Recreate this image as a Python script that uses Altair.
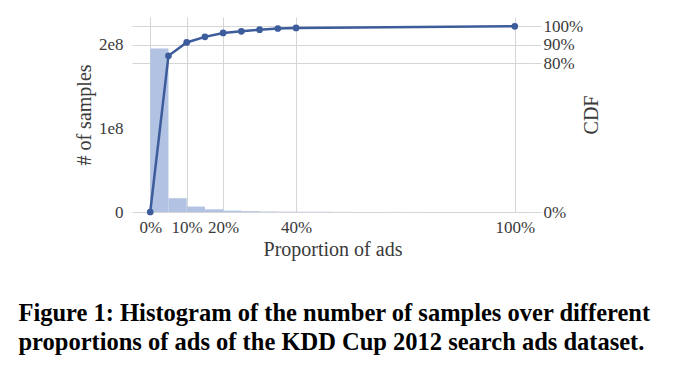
import altair as alt
import pandas as pd

# Histogram bins (proportion of ads, %) and sample counts
bin_start = [0, 5, 10, 15, 20, 25, 30, 35, 40, 45, 50, 55, 60, 65, 70, 75, 80, 85, 90, 95]
bin_end = [5, 10, 15, 20, 25, 30, 35, 40, 45, 50, 55, 60, 65, 70, 75, 80, 85, 90, 95, 100]
counts = [1.955e8, 0.165e8, 0.065e8, 0.032e8, 0.016e8, 0.010e8, 0.006e8, 0.004e8,
          0.003e8, 0.002e8, 0.0015e8, 0.001e8, 0.001e8, 0.0008e8, 0.0006e8, 0.0005e8,
          0.0004e8, 0.0003e8, 0.0002e8, 0.0002e8]

# CDF points
cdf_x = [0, 5, 10, 15, 20, 25, 30, 35, 40, 100]
cdf_y = [0.0, 0.841, 0.913, 0.943, 0.964, 0.973, 0.982, 0.988, 0.991, 1.0]

x_ticks = [0, 10, 20, 40, 100]
left_ticks = [0, 1e8, 2e8]
right_ticks = [0, 0.8, 0.9, 1.0]

caption = ["Figure 1: Histogram of the number of samples over different",
           "proportions of ads of the KDD Cup 2012 search ads dataset."]

hist = pd.DataFrame({"start": bin_start, "end": bin_end, "count": counts})
cdf = pd.DataFrame({"x": cdf_x, "cdf": cdf_y})

FONT = "Liberation Serif"
GRID = "#d6d6d6"
TXT = "#3a3a3a"
BLUE = "#3c5c9c"

xscale = alt.Scale(domain=[-5, 105], nice=False, zero=False)
xaxis = alt.Axis(values=x_ticks, labelExpr="datum.value + '%'", title="Proportion of ads",
                 grid=True, gridColor=GRID, ticks=False, domain=False, labelPadding=7,
                 titlePadding=4)

bars = alt.Chart(hist).mark_rect(color="#b1c2e2").encode(
    x=alt.X("start:Q", scale=xscale, axis=xaxis),
    x2="end:Q",
    y=alt.Y("count:Q", scale=alt.Scale(domain=[0, 2e8 / 0.9 * 1.05], nice=False),
            axis=alt.Axis(values=left_ticks, title="# of samples", grid=False, ticks=False,
                          domain=False, labelPadding=9, titlePadding=4,
                          labelExpr="datum.value == 0 ? '0' : format(datum.value/1e8, 'd') + 'e8'")),
)

line = alt.Chart(cdf).mark_line(
    color=BLUE, strokeWidth=2.5,
    point=alt.OverlayMarkDef(color=BLUE, filled=True, size=45, opacity=1),
).encode(
    x=alt.X("x:Q", scale=xscale, axis=xaxis),
    y=alt.Y("cdf:Q", scale=alt.Scale(domain=[0, 1.05], nice=False),
            axis=alt.Axis(orient="right", values=right_ticks, format=".0%", title="CDF",
                          grid=True, gridColor=GRID, tickColor=GRID, tickSize=8, domain=False,
                          labelPadding=2, titlePadding=19, titleAngle=270)),
)

chart = alt.layer(bars, line).resolve_scale(y="independent").properties(
    width=401, height=195,
    autosize=alt.AutoSizeParams(type="none"),
    padding={"left": 124, "top": 9, "right": 130, "bottom": 145},
    title=alt.TitleParams(text=caption, orient="bottom", anchor="start", font=FONT,
                          fontSize=24.5, fontWeight="bold", color="black", dx=-56,
                          offset=43, lineHeight=29),
).configure_axis(
    labelFont=FONT, titleFont=FONT, labelFontSize=17, titleFontSize=20,
    labelColor=TXT, titleColor=TXT, titleFontWeight="normal",
).configure_view(stroke=None)

chart.save("out.html", embed_options={"renderer": "svg", "actions": False})
